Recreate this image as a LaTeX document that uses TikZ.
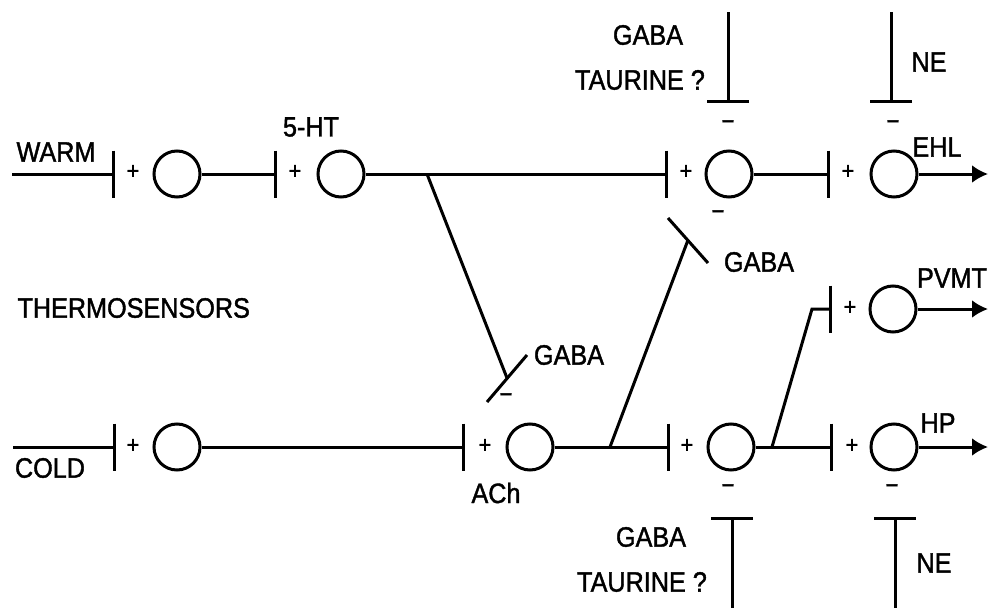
\documentclass[tikz,border=0pt]{standalone}
\usepackage{fontspec}
\setmainfont[FakeStretch=0.9,FakeBold=1.4]{Liberation Sans}
\usetikzlibrary{arrows.meta}
\newcommand\lbfont{\fontsize{28}{30}\selectfont}
\newcommand\sgfont{\fontsize{24}{24}\selectfont}
\newcommand\mnfont{\fontsize{25}{25}\selectfont}
\tikzset{
  every path/.style={line width=3pt},
  neuron/.style={circle, draw, line width=3pt, minimum size=46pt, inner sep=0pt},
  lbl/.style={font=\lbfont, inner sep=0pt},
  plus/.style={font=\sgfont, inner sep=0pt},
  minus/.style={font=\mnfont, inner sep=0pt},
  syn/.style={-{Bar[width=47pt]}},
  inh/.style={-{Bar[width=42pt]}},
  outp/.style={-{Latex[length=16pt,width=18pt]}},
}
\begin{document}
\begin{tikzpicture}[x=1pt,y=-1pt]
\useasboundingbox (0,0) rectangle (989,608);
% neurons
\node[neuron] (c1) at (177,174) {};
\node[neuron] (c2) at (341,174) {};
\node[neuron] (c3) at (729,174) {};
\node[neuron] (c4) at (894,174) {};
\node[neuron] (c5) at (177,447) {};
\node[neuron] (c6) at (530,447) {};
\node[neuron] (c7) at (731,447) {};
\node[neuron] (c8) at (893,309) {};
\node[neuron] (c9) at (894,447) {};
% synapse positions
\coordinate (warm) at (12,174);
\coordinate (cold) at (13,447);
\coordinate (b1) at (115,174);
\coordinate (b2) at (277,174);
\coordinate (b3) at (668,174);
\coordinate (b4) at (830,174);
\coordinate (b5) at (116,447);
\coordinate (b6) at (465,447);
\coordinate (b7) at (670,447);
\coordinate (b8) at (832,309);
\coordinate (b9) at (833,447);
% excitatory connections
\draw[syn] (warm) -- (b1);
\draw[syn] (c1) -- (b2);
\draw[syn] (c2) -- (b3);
\draw[syn] (c3) -- (b4);
\draw[syn] (cold) -- (b5);
\draw[syn] (c5) -- (b6);
\draw[syn] (c6) -- (b7);
\draw[syn] (c7) -- (b9);
% branch to PVMT
\coordinate (j3) at (772,447);
\coordinate (k3) at (812,309);
\draw[syn] (j3) -- (k3) -- (b8);
% outputs
\coordinate (o4) at (988,174);
\coordinate (o8) at (988,309);
\coordinate (o9) at (988,447);
\draw[outp] (c4) -- (o4);
\draw[outp] (c8) -- (o8);
\draw[outp] (c9) -- (o9);
% GABA cross inhibitions
\coordinate (j1) at (427,174);
\coordinate (g1) at (507,378);
\coordinate (g1a) at (487,402);
\coordinate (g1b) at (527,355);
\draw (j1) -- (g1);
\draw (g1a) -- (g1b);
\coordinate (j2) at (610,447);
\coordinate (g2) at (688,240);
\coordinate (g2a) at (668,218);
\coordinate (g2b) at (708,263);
\draw (j2) -- (g2);
\draw (g2a) -- (g2b);
% top inhibitors
\coordinate (t3s) at (728,12);
\coordinate (t3) at (728,103);
\coordinate (t4s) at (891,12);
\coordinate (t4) at (891,103);
\draw[inh] (t3s) -- (t3);
\draw[inh] (t4s) -- (t4);
% bottom inhibitors
\coordinate (u7s) at (732,608);
\coordinate (u7) at (732,517);
\coordinate (u9s) at (895,608);
\coordinate (u9) at (895,517);
\draw[inh] (u7s) -- (u7);
\draw[inh] (u9s) -- (u9);
% plus signs
\node[plus] (p1) at (133,172) {+};
\node[plus] (p2) at (295,172) {+};
\node[plus] (p3) at (686,172) {+};
\node[plus] (p4) at (848,172) {+};
\node[plus] (p5) at (133,446) {+};
\node[plus] (p6) at (485,446) {+};
\node[plus] (p7) at (687,446) {+};
\node[plus] (p8) at (850,308) {+};
\node[plus] (p9) at (852,446) {+};
% minus signs
\node[minus] (m3t) at (728,125) {−};
\node[minus] (m4t) at (893,125) {−};
\node[minus] (m3b) at (718,215) {−};
\node[minus] (m6) at (506,398) {−};
\node[minus] (m7) at (728,489) {−};
\node[minus] (m9) at (892,489) {−};
% labels
\node[lbl] (lwarm) at (56,152) {WARM};
\node[lbl] (l5ht) at (311,127) {5-HT};
\node[lbl] (lcold) at (50,468) {COLD};
\node[lbl] (lach) at (496,493) {ACh};
\node[lbl, anchor=west] (lthermo) at (16,308) {THERMOSENSORS};
\node[lbl] (lgabat) at (648,35) {GABA};
\node[lbl] (ltaurt) at (640,80) {TAURINE ?};
\node[lbl] (lnet) at (929,62) {NE};
\node[lbl] (lehl) at (937,147) {EHL};
\node[lbl] (lpvmt) at (952,278) {PVMT};
\node[lbl] (lhp) at (938,423) {HP};
\node[lbl] (lneb) at (934,563) {NE};
\node[lbl] (lgabab) at (651,537) {GABA};
\node[lbl] (ltaurb) at (642,582) {TAURINE ?};
\node[lbl] (lgaba1) at (569,355) {GABA};
\node[lbl] (lgaba2) at (759,262) {GABA};
\end{tikzpicture}
\end{document}
